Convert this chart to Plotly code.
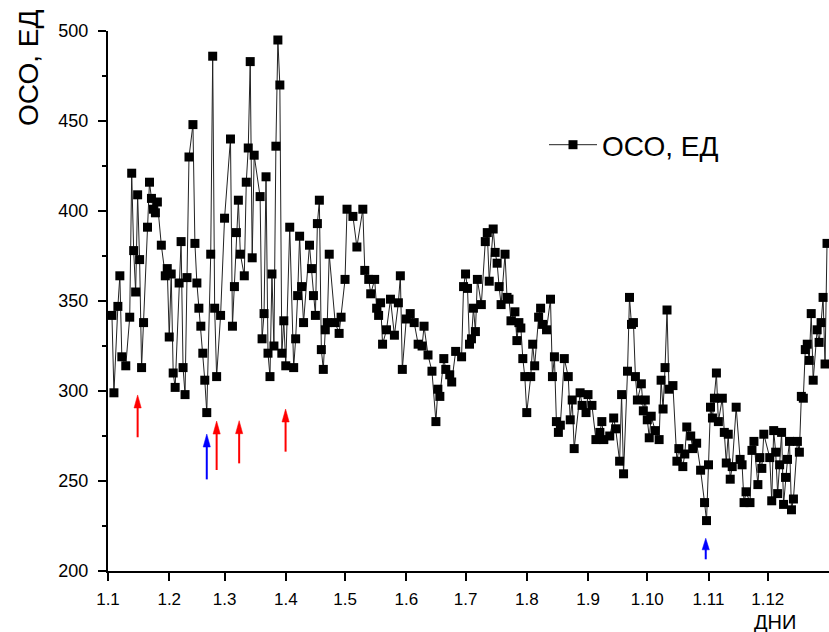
import plotly.graph_objects as go

# ---- data (day of year, 0 = 1 Jan) ----
days = [2, 3, 5, 6, 7, 9, 11, 12, 13, 14, 15, 16, 17, 18, 20, 21, 22, 23, 24, 25,
        27, 29, 30, 31, 32, 33, 34, 36, 37, 38, 39, 40, 41, 43, 44, 45, 46, 47, 48, 49,
        50, 52, 53, 54, 55, 57, 59, 62, 63, 64, 65, 66, 67, 69, 70, 71, 72, 73, 74, 77,
        78, 79, 80, 81, 82, 83, 84, 85, 86, 87, 88, 89, 90, 92, 94, 95, 96, 97, 98, 99,
        102, 103, 104, 105, 106, 107, 108, 109, 110, 111, 112, 115, 117, 118, 120, 121, 124, 126, 129, 130,
        132, 133, 135, 136, 137, 138, 139, 141, 143, 145, 147, 148, 149, 151, 153, 155, 157, 159, 160, 162,
        164, 166, 167, 168, 170, 171, 173, 174, 176, 179, 180, 181, 182, 183, 184, 185, 186, 187, 189, 191,
        192, 193, 195, 196, 197, 198, 199, 201, 202, 203, 204, 206, 207, 208, 209, 210, 211, 212, 214, 215,
        216, 218, 219, 220, 222, 224, 225, 226, 227, 228, 229, 231, 233, 234, 235, 236, 239, 240, 242, 243,
        245, 247, 249, 250, 251, 254, 256, 257, 259, 260, 261, 263, 264, 265, 266, 267, 268, 270, 271, 272,
        273, 274, 275, 277, 279, 280, 281, 282, 283, 284, 286, 288, 289, 291, 292, 293, 295, 296, 298, 300,
        302, 303, 304, 305, 306, 307, 308, 309, 311, 312, 313, 314, 315, 316, 318, 320, 321, 322, 323, 325,
        326, 327, 329, 330, 331, 332, 335, 336, 337, 338, 339, 340, 341, 342, 343, 344, 345, 346, 347, 349,
        350, 351, 352, 353, 354, 355, 356, 357, 359, 360, 361, 362, 363, 364]

oso = [342, 299, 347, 364, 319, 314, 341, 421, 378, 355, 409, 373, 313, 338, 391, 416, 407, 401, 399, 405,
       381, 364, 368, 330, 365, 310, 302, 360, 383, 313, 298, 363, 430, 448, 382, 360, 346, 336, 321, 306,
       288, 376, 486, 346, 308, 342, 396, 440, 336, 358, 388, 406, 376, 364, 416, 435, 483, 374, 431, 408,
       329, 343, 419, 321, 308, 365, 325, 436, 495, 470, 321, 339, 314, 391, 313, 329, 353, 386, 358, 338,
       381, 368, 353, 342, 393, 406, 323, 312, 334, 338, 376, 338, 332, 341, 362, 401, 397, 380, 401, 367,
       362, 354, 362, 346, 342, 349, 326, 334, 351, 331, 349, 364, 312, 340, 343, 338, 326, 325, 336, 320,
       311, 283, 301, 297, 318, 312, 309, 305, 322, 319, 358, 365, 357, 326, 329, 346, 333, 362, 348, 383,
       388, 361, 390, 377, 371, 358, 348, 376, 352, 351, 339, 344, 328, 338, 335, 318, 308, 288, 308, 326,
       314, 341, 346, 337, 334, 351, 308, 319, 283, 277, 281, 318, 308, 284, 295, 268, 299, 292, 288, 298,
       292, 273, 277, 283, 273, 275, 285, 279, 261, 298, 254, 311, 352, 337, 338, 308, 295, 304, 289, 295,
       284, 274, 286, 278, 273, 306, 290, 313, 345, 301, 303, 261, 268, 258, 265, 280, 275, 268, 271, 256,
       238, 228, 259, 291, 285, 296, 310, 283, 296, 277, 260, 276, 251, 258, 291, 262, 259, 238, 244, 238,
       267, 272, 248, 263, 257, 276, 263, 239, 278, 266, 243, 259, 277, 237, 252, 262, 272, 234, 240, 272,
       266, 297, 296, 323, 326, 317, 343, 306, 334, 327, 338, 352, 315, 382]

month_start = [0, 31, 59, 90, 120, 151, 181, 212, 243, 273, 304, 334]
month_labels = ["1.1", "1.2", "1.3", "1.4", "1.5", "1.6", "1.7", "1.8", "1.9", "1.10", "1.11", "1.12"]

# arrows (day, tip value, tail value, colour)
arrow_day = [15, 50, 55, 66.4, 89.9, 302.6]
arrow_tip = [297.8, 276.1, 283.3, 283.5, 290.0, 218.2]
arrow_tail = [274.3, 250.9, 256.1, 259.8, 266.3, 206.5]
arrow_color = ["#ff0000", "#0000ff", "#ff0000", "#ff0000", "#ff0000", "#0000ff"]

series_name = "ОСО, ЕД"
y_title = "ОСО, ЕД"
x_title = "ДНИ"

FONT = "Liberation Sans, Arial, sans-serif"
W, H = 829, 632
ML, MR, MT, MB = 108, 0, 31, 61
XR = [0, 365]
YR = [200, 500]
PW, PH = W - ML - MR, H - MT - MB
px_per_day = PW / (XR[1] - XR[0])
px_per_unit = PH / (YR[1] - YR[0])

fig = go.Figure()
fig.add_trace(go.Scatter(
    x=days, y=oso, mode="lines+markers", name=series_name,
    line=dict(color="#222222", width=1),
    marker=dict(symbol="square", size=9, color="black", line=dict(width=0)),
    cliponaxis=False,
))

shapes = []
head_len = 13 / px_per_unit
head_half = 3.6 / px_per_day
for d, tip, tail, c in zip(arrow_day, arrow_tip, arrow_tail, arrow_color):
    hl = min(head_len, (tip - tail) * 0.55)
    shapes.append(dict(type="line", xref="x", yref="y", x0=d, x1=d, y0=tail, y1=tip - hl * 0.8,
                       line=dict(color=c, width=2)))
    shapes.append(dict(type="path", xref="x", yref="y",
                       path=f"M {d - head_half},{tip - hl} L {d},{tip} L {d + head_half},{tip - hl} Z",
                       fillcolor=c, line=dict(color=c, width=0.5)))

annotations = [
    dict(text=y_title, xref="paper", yref="paper", x=(28 - ML) / PW, y=(H - MB - 8) / PH,
         xanchor="center", yanchor="top", textangle=-90, showarrow=False,
         font=dict(family=FONT, size=28, color="black")),
    dict(text=x_title, xref="paper", yref="paper", x=(775 - ML) / PW, y=-(622 - (H - MB)) / PH,
         xanchor="center", yanchor="middle", showarrow=False,
         font=dict(family=FONT, size=20, color="black")),
]

fig.update_layout(
    width=W, height=H,
    margin=dict(l=ML, r=MR, t=MT, b=MB, pad=0),
    paper_bgcolor="white", plot_bgcolor="white",
    font=dict(family=FONT, color="black"),
    showlegend=True,
    legend=dict(x=(544 - ML) / PW, y=(H - MB - 145) / PH,
                xanchor="left", yanchor="middle", bgcolor="rgba(0,0,0,0)",
                font=dict(family=FONT, size=28, color="black"), itemwidth=48),
    shapes=shapes,
    annotations=annotations,
    xaxis=dict(range=XR, tickvals=month_start, ticktext=month_labels,
               showgrid=False, zeroline=False, showline=True, linecolor="black", linewidth=2,
               ticks="outside", ticklen=8, tickwidth=1.5, tickcolor="black",
               ticklabelstandoff=4,
               tickfont=dict(family=FONT, size=17, color="black")),
    yaxis=dict(range=YR, dtick=50, tick0=200,
               showgrid=False, zeroline=False, showline=True, linecolor="black", linewidth=2,
               ticks="outside", ticklen=8, tickwidth=1.5, tickcolor="black",
               ticklabelstandoff=6,
               tickfont=dict(family=FONT, size=18, color="black"),
               minor=dict(dtick=25, ticks="outside", ticklen=4, tickwidth=1.5, tickcolor="black")),
)

fig.write_html("out.html", config={"displayModeBar": False},
               post_script="document.body.style.margin='0px';")
